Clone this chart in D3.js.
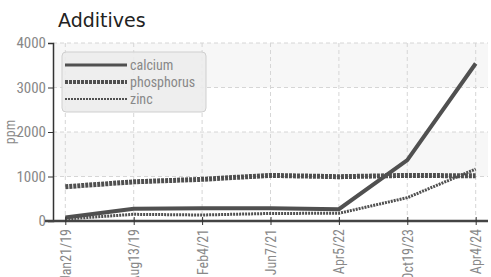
<!DOCTYPE html>
<html><head><meta charset="utf-8">
<script src="https://cdn.jsdelivr.net/npm/d3@7"></script>
<style>
body{margin:0;background:#fff;}
svg{display:block;}
</style></head>
<body><svg id="c" width="491" height="277"></svg>
<script>
const categories = ["Jan21/19","Aug13/19","Feb4/21","Jun7/21","Apr5/22","Oct19/23","Apr4/24"];
const calcium    = [80, 277, 285, 285, 265, 1370, 3540];
const phosphorus = [770, 880, 937, 1025, 995, 1025, 1015];
const zinc       = [45, 150, 135, 170, 173, 524, 1168];
const yTicks = [0, 1000, 2000, 3000, 4000];
const seriesNames = ["calcium","phosphorus","zinc"];

const FONT = "'Roboto Condensed', 'Liberation Sans Narrow', sans-serif";
const svg = d3.select("#c");
const L = 53, R = 488, T = 43, B = 221;
const x = d3.scalePoint().domain(categories).range([L, R]).padding(0.18);
const y = d3.scaleLinear().domain([0, 4000]).range([B, T]);

// alternating bands
for (let i = 0; i < yTicks.length - 1; i++) {
  if (i % 2 === 1) {
    svg.append("rect").attr("x", L).attr("width", R - L)
      .attr("y", y(yTicks[i + 1])).attr("height", y(yTicks[i]) - y(yTicks[i + 1]))
      .attr("fill", "#f7f7f7");
  }
}
// grid
svg.append("g").selectAll("line").data(yTicks.slice(1)).join("line")
  .attr("x1", L).attr("x2", R).attr("y1", d => y(d)).attr("y2", d => y(d))
  .attr("stroke", "#d6d6d6").attr("stroke-dasharray", "4,3");
svg.append("g").selectAll("line").data(categories).join("line")
  .attr("x1", d => x(d)).attr("x2", d => x(d)).attr("y1", T).attr("y2", B)
  .attr("stroke", "#d6d6d6").attr("stroke-dasharray", "4,3");

// title
svg.append("text").attr("x", 58).attr("y", 27).text("Additives")
  .style("font-family", "'DejaVu Sans', sans-serif").style("font-size", "19px").attr("fill", "#222");

// y axis
const ya = svg.append("g").attr("transform", `translate(${L},0)`)
  .call(d3.axisLeft(y).tickValues(yTicks).tickSize(5).tickPadding(2).tickFormat(d3.format("d")));
ya.selectAll("text").style("font-family", FONT).style("font-size", "15px").attr("fill", "#888");
ya.select(".domain").attr("stroke", "#333").attr("stroke-width", 1.5);
ya.selectAll(".tick line").attr("stroke", "#333");
svg.append("text").attr("transform", "translate(15,132) rotate(-90)")
  .attr("text-anchor", "middle").style("font-family", FONT).style("font-size", "14px")
  .attr("fill", "#888").text("ppm");

// series
const line = d3.line().x((d, i) => x(categories[i])).y(d => y(d));
const styles = [
  {data: calcium, w: 4, dash: null},
  {data: phosphorus, w: 5, dash: "3,1"},
  {data: zinc, w: 3, dash: "2,1"}
];
styles.forEach(s => {
  svg.append("path").datum(s.data).attr("d", line).attr("fill", "none")
    .attr("stroke", "#505050").attr("stroke-width", s.w)
    .attr("stroke-dasharray", s.dash);
});

// x axis
const xa = svg.append("g").attr("transform", `translate(0,${B})`)
  .call(d3.axisBottom(x).tickSizeInner(5).tickSizeOuter(0));
xa.select(".domain").attr("stroke", "#444").attr("stroke-width", 2.5).attr("d", `M${L - 8},0H${R}`);
xa.selectAll(".tick line").attr("stroke", "#333").attr("y1", -4).attr("y2", 4);
xa.selectAll("text").style("font-family", FONT).style("font-size", "14px").attr("fill", "#888")
  .attr("text-anchor", "end")
  .attr("transform", "rotate(-90)").attr("x", -8).attr("y", 0).attr("dy", "0.35em");

// legend
const lg = svg.append("g");
lg.append("rect").attr("x", 62).attr("y", 52).attr("width", 144).attr("height", 60).attr("rx", 4)
  .attr("fill", "#ececec").attr("fill-opacity", 0.9).attr("stroke", "#cfcfcf");
seriesNames.forEach((n, i) => {
  const yy = 65 + i * 17;
  lg.append("line").attr("x1", 65).attr("x2", 127).attr("y1", yy).attr("y2", yy)
    .attr("stroke", "#505050").attr("stroke-width", styles[i].w - 1).attr("stroke-dasharray", styles[i].dash);
  lg.append("text").attr("x", 130).attr("y", yy).attr("dy", "0.35em").text(n)
    .style("font-family", FONT).style("font-size", "14px").attr("fill", "#888");
});
</script></body></html>
